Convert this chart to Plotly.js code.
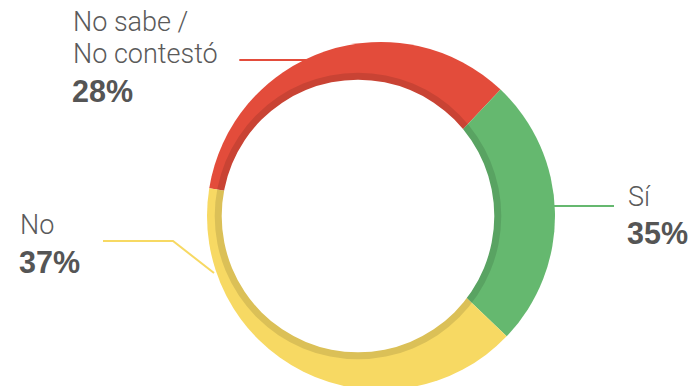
<!DOCTYPE html>
<html>
<head>
<meta charset="utf-8">
<script src="https://cdn.plot.ly/plotly-3.0.1.min.js"></script>
<style>
  html, body { margin: 0; padding: 0; background: #fff; overflow: hidden; }
  #chart { width: 693px; height: 400px; }
</style>
</head>
<body>
<div id="chart"></div>
<script>
// ---- data ----
var categories = ["No sabe / No contestó", "Sí", "No"];
var labelLines = [["No sabe /", "No contestó"], ["Sí"], ["No"]];
var percentLabels = ["28%", "35%", "37%"];
// arc sizes as drawn in the reference (share of the ring)
var arcValues = [34.5, 25.1, 40.4];
var sliceColors = ["#E34C3B", "#65B86F", "#F7D963"];

// ---- layout constants ----
var W = 693, H = 400;
var CX = 381, CY = 216, R = 174;           // outer ring
var HX = 358, HY = 216, HR = 136.3, SR = 143.3; // offset hole + inner shade
function px(x) { return x / W; }
function py(y) { return 1 - y / H; }

var trace = {
  type: "pie",
  labels: categories,
  values: arcValues,
  sort: false,
  direction: "clockwise",
  rotation: -80.8,
  marker: { colors: sliceColors, line: { width: 0 } },
  textinfo: "none",
  hoverinfo: "label",
  showlegend: false,
  domain: { x: [px(CX - R), px(CX + R)], y: [py(CY + R), py(CY - R)] }
};

var lineW = 2;
var shapes = [
  // leader lines
  { type: "line", layer: "below", xref: "paper", yref: "paper",
    x0: px(239.3), y0: py(60), x1: px(306), y1: py(60),
    line: { color: sliceColors[0], width: lineW } },
  { type: "line", layer: "below", xref: "paper", yref: "paper",
    x0: px(553), y0: py(206), x1: px(614), y1: py(206),
    line: { color: sliceColors[1], width: lineW } },
  { type: "path", layer: "below", xref: "paper", yref: "paper",
    path: "M " + px(103) + "," + py(241) + " L " + px(173) + "," + py(241) +
          " L " + px(214) + "," + py(273),
    line: { color: sliceColors[2], width: lineW } },
  // inner shade band
  { type: "circle", layer: "above", xref: "paper", yref: "paper",
    x0: px(HX - SR), x1: px(HX + SR), y0: py(HY + SR), y1: py(HY - SR),
    fillcolor: "rgba(0,0,0,0.115)", line: { width: 0 } },
  // hole
  { type: "circle", layer: "above", xref: "paper", yref: "paper",
    x0: px(HX - HR), x1: px(HX + HR), y0: py(HY + HR), y1: py(HY - HR),
    fillcolor: "#ffffff", line: { width: 0 } }
];

var regFont = { family: "Roboto, 'Liberation Sans', Arial, sans-serif", size: 27, color: "#5a5a5a", weight: 300 };
var boldFont = { family: "'Liberation Sans', Arial, sans-serif", size: 30.5, color: "#555555", weight: 700 };

function ann(text, x, yc, font) {
  return { text: text, xref: "paper", yref: "paper", x: px(x), y: py(yc),
           xanchor: "left", yanchor: "middle", showarrow: false, font: font,
           borderpad: 0 };
}

var annotations = [
  ann(labelLines[0][0], 72, 22.3, regFont),
  ann(labelLines[0][1], 72, 53.5, regFont),
  ann("<b>" + percentLabels[0] + "</b>", 71, 91, boldFont),
  ann(labelLines[1][0], 627, 197.2, regFont),
  ann("<b>" + percentLabels[1] + "</b>", 626, 232.8, boldFont),
  ann(labelLines[2][0], 19, 225.3, regFont),
  ann("<b>" + percentLabels[2] + "</b>", 18, 261.8, boldFont)
];

var layout = {
  width: W, height: H,
  margin: { l: 0, r: 0, t: 0, b: 0 },
  paper_bgcolor: "#ffffff",
  showlegend: false,
  shapes: shapes,
  annotations: annotations
};

Plotly.newPlot("chart", [trace], layout, { staticPlot: true, displayModeBar: false });
</script>
</body>
</html>
